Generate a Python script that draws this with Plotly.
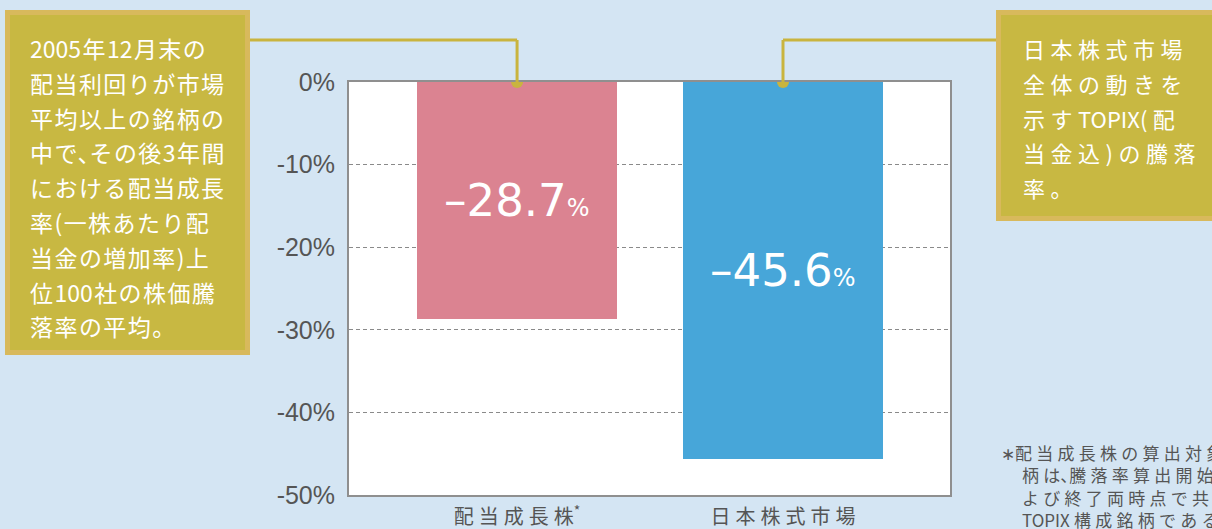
import plotly.graph_objects as go

categories = ["配当成長株", "日本株式市場"]
values = [-28.7, -45.6]
bar_colors = ["#db8391", "#47a6d9"]
y_ticks = [0, -10, -20, -30, -40, -50]
y_tick_labels = ["0%", "-10%", "-20%", "-30%", "-40%", "-50%"]

left_note = ["2005年12月末の", "配当利回りが市場", "平均以上の銘柄の", "中で、その後3年間",
             "における配当成長", "率(一株あたり配", "当金の増加率)上", "位100社の株価騰", "落率の平均。"]
right_note = ["日本株式市場", "全体の動きを", "示すTOPIX(配", "当金込)の騰落", "率。"]
footnote = ["配当成長株の算出対象銘", "柄は、騰落率算出開始お", "よび終了両時点で共に", "TOPIX構成銘柄であるもの。"]

W, H = 1212, 529
L, R, T, B = 349, 950, 82, 495
XR = [-0.632, 1.628]


def fx(px):
    return (px - L) / (R - L)


def fy(py):
    return (B - py) / (B - T)


def spaced(s, sp="\u2009", comma_shrink=0):
    out = ""
    for a, b in zip(s, s[1:] + " "):
        if a == "、" and comma_shrink:
            out += f"<span style='letter-spacing:-{comma_shrink}px'>、</span>"
            continue
        out += a
        if b != " " and b != "、" and (ord(a) > 127 or ord(b) > 127):
            out += sp
    return out


CJK = "Noto Sans CJK JP, Liberation Sans, sans-serif"
NUM = "Liberation Sans, Noto Sans CJK JP, sans-serif"
BIG = "DejaVu Sans, Liberation Sans, sans-serif"

fig = go.Figure()
fig.add_trace(go.Bar(
    x=[0, 1], y=values, width=0.75,
    marker=dict(color=bar_colors, line=dict(width=0)),
    hoverinfo="skip", showlegend=False,
))

annotations = []
# value labels
for i, v in enumerate(values):
    annotations.append(dict(
        x=i, y=v / 2, xref="x", yref="y", showarrow=False,
        text=f"–{abs(v):.1f}<span style='font-size:24px'>%</span>",
        font=dict(family=BIG, size=45, color="white"),
        xanchor="center", yanchor="middle",
    ))

# left box text
for k, line in enumerate(left_note):
    annotations.append(dict(
        x=fx(28), y=fy(48 + k * 34.8), xref="paper", yref="paper", showarrow=False,
        text=spaced(line, "\u200a", comma_shrink=11), font=dict(family=CJK, size=23, color="white"),
        xanchor="left", yanchor="middle",
    ))
# right box text
for k, line in enumerate(right_note):
    annotations.append(dict(
        x=fx(1021), y=fy(48 + k * 34.8), xref="paper", yref="paper", showarrow=False,
        text=spaced(line, "\u2005"), font=dict(family=CJK, size=22, color="white"),
        xanchor="left", yanchor="middle",
    ))
# footnote
for k, line in enumerate(footnote):
    text = spaced(line, "\u2005", comma_shrink=8)
    if k == 0:
        text = "<span style='font-family:Liberation Sans'>∗</span>" + text
    xs = 999 if k == 0 else 1020
    annotations.append(dict(
        x=fx(xs), y=fy(452 + k * 22.5), xref="paper", yref="paper", showarrow=False,
        text=text, font=dict(family=CJK, size=17, color="#555555"),
        xanchor="left", yanchor="middle",
    ))

BOX_FILL = "#c8b842"
BOX_LINE = "#d8b95c"
CONN = "#c9b43e"
shapes = [
    dict(type="rect", xref="paper", yref="paper", x0=fx(7.5), x1=fx(247.5), y0=fy(12.5), y1=fy(352.5),
         fillcolor=BOX_FILL, line=dict(color=BOX_LINE, width=5), layer="above"),
    dict(type="rect", xref="paper", yref="paper", x0=fx(998.5), x1=fx(1225), y0=fy(12.5), y1=fy(218.5),
         fillcolor=BOX_FILL, line=dict(color=BOX_LINE, width=5), layer="above"),
]
cat_px = [L + (i - XR[0]) / (XR[1] - XR[0]) * (R - L) for i in range(2)]
# connectors
shapes.append(dict(type="line", xref="paper", yref="paper", x0=fx(250), x1=fx(cat_px[0]), y0=fy(40), y1=fy(40),
                   line=dict(color=CONN, width=3), layer="above"))
shapes.append(dict(type="line", xref="paper", yref="paper", x0=fx(cat_px[1]), x1=fx(996), y0=fy(40), y1=fy(40),
                   line=dict(color=CONN, width=3), layer="above"))
for i in range(2):
    shapes.append(dict(type="line", xref="x", yref="paper", x0=i, x1=i, y0=1, y1=fy(40),
                       line=dict(color=CONN, width=3), layer="above"))
    shapes.append(dict(type="circle", xref="x", yref="y", xsizemode="pixel", ysizemode="pixel",
                       xanchor=i, yanchor=0, x0=-6, x1=6, y0=-6, y1=6,
                       fillcolor=CONN, line=dict(width=0), layer="above"))

fig.update_layout(
    width=W, height=H,
    margin=dict(l=L, r=W - R, t=T, b=H - B, pad=0, autoexpand=False),
    paper_bgcolor="#d4e5f3", plot_bgcolor="white",
    bargap=0,
    annotations=annotations, shapes=shapes,
    xaxis=dict(
        range=XR, tickvals=[0, 1],
        ticktext=[spaced(categories[0], "\u2005") + "<sup>*</sup>", spaced(categories[1], "\u2005")],
        tickfont=dict(family=CJK, size=20, color="#555555"),
        showgrid=False, zeroline=False, showline=True, mirror=True,
        linecolor="#8f8f8f", linewidth=2, ticks="", ticklabelstandoff=3,
        fixedrange=True, automargin=False,
    ),
    yaxis=dict(
        range=[-50, 0], tickvals=y_ticks, ticktext=y_tick_labels,
        tickfont=dict(family=NUM, size=25, color="#555555"),
        showgrid=True, gridcolor="#8a8a8a", gridwidth=1, griddash="4px,3px",
        zeroline=False, showline=True, mirror=True,
        linecolor="#8f8f8f", linewidth=2, ticks="", ticklabelstandoff=7,
        fixedrange=True, automargin=False,
    ),
)

fig.write_html("out.html", config={"displayModeBar": False},
               post_script="document.body.style.margin='0';document.body.style.overflow='hidden';")
